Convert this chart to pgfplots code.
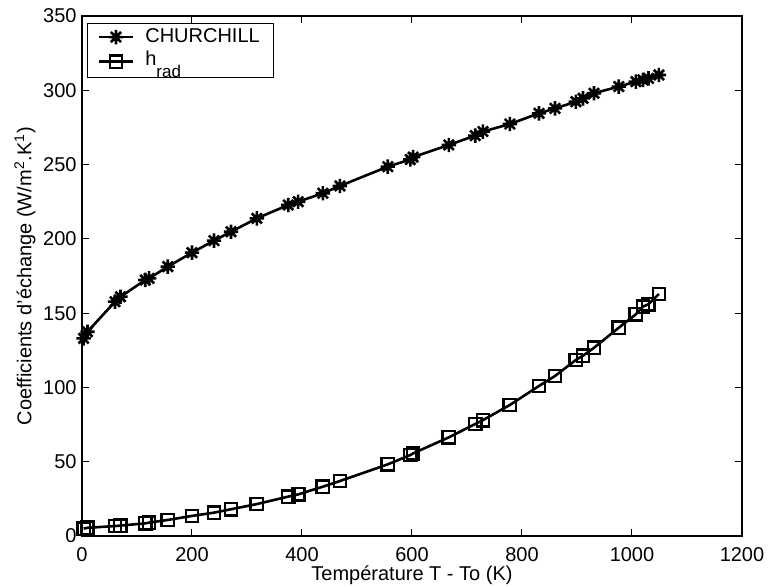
\documentclass[border=0pt]{standalone}
\usepackage{fontspec}
\setmainfont{Liberation Sans}
\usepackage{pgfplots}
\usepackage{pgfplotstable}
\pgfplotsset{compat=1.18}

\pgfdeclareplotmark{ast8}{%
  \pgfpathmoveto{\pgfqpoint{0pt}{\pgfplotmarksize}}%
  \pgfpathlineto{\pgfqpoint{0pt}{-\pgfplotmarksize}}%
  \pgfpathmoveto{\pgfqpoint{\pgfplotmarksize}{0pt}}%
  \pgfpathlineto{\pgfqpoint{-\pgfplotmarksize}{0pt}}%
  \pgfpathmoveto{\pgfqpoint{0.7071\pgfplotmarksize}{0.7071\pgfplotmarksize}}%
  \pgfpathlineto{\pgfqpoint{-0.7071\pgfplotmarksize}{-0.7071\pgfplotmarksize}}%
  \pgfpathmoveto{\pgfqpoint{0.7071\pgfplotmarksize}{-0.7071\pgfplotmarksize}}%
  \pgfpathlineto{\pgfqpoint{-0.7071\pgfplotmarksize}{0.7071\pgfplotmarksize}}%
  \pgfusepathqstroke
}

\pgfplotstableread{
x     church  hrad
3     133.0   5.0
10    137.5   5.5
60    157.7   6.7
70    161.0   7.0
115   172.3   8.5
122   173.4   9.0
156   181.3   10.8
200   190.7   13.5
240   198.8   15.7
271   204.8   18.0
318   213.8   21.5
375   222.8   26.5
393   225.0   28.0
438   230.7   33.2
469   235.6   37.0
556   248.6   48.2
597   253.4   54.5
602   255.0   55.6
667   263.2   66.4
715   269.5   75.4
729   272.2   78.0
778   277.3   88.2
831   284.5   101.0
860   287.8   107.7
898   292.3   118.5
911   294.6   121.4
931   298.0   126.7
976   302.5   140.2
1007  305.8   149.2
1020  307.0   154.4
1030  308.0   156.0
1049  310.3   162.9
}\datatable

\begin{document}
\begin{tikzpicture}
\begin{axis}[
  scale only axis,
  width=330pt, height=260pt,
  at={(0,0)}, anchor=south west,
  xmin=0, xmax=1200, ymin=0, ymax=350,
  xtick={0,200,...,1200}, ytick={0,50,...,350},
  tick align=inside,
  major tick length=3.3pt,
  tick style={black, line width=0.5pt},
  axis line style={black, line width=0.7pt},
  font=\fontsize{10}{12}\selectfont,
  /pgf/number format/assume math mode=true,
  /pgf/number format/1000 sep={},
  xticklabel style={yshift=-2.0pt},
  yticklabel style={inner xsep=2.5pt},
  xlabel={Température T - To (K)},
  ylabel={Coefficients d'échange (W/m\textsuperscript{2}.K\textsuperscript{1})},
  every axis x label/.style={at={(axis description cs:0.5,-0.075)}, anchor=center},
  every axis y label/.style={at={(axis description cs:-0.0864,0.5)}, anchor=center, rotate=90},
  legend style={at={(axis description cs:0,1)}, anchor=north west,
    xshift=2.5pt, yshift=-3.5pt, draw=black, line width=0.6pt,
    inner xsep=5pt, inner ysep=0.5pt, row sep=-1.5pt,
    /tikz/every odd column/.append style={column sep=3.5pt},
    font=\fontsize{10}{12}\selectfont},
  legend cell align=left,
]
\addplot[black, line width=1.3pt, mark=ast8, mark size=3.6pt,
  mark options={line width=1.3pt}] table[x=x, y=church] {\datatable};
\addlegendentry{CHURCHILL}
\addplot[black, line width=1.3pt, mark=square, mark size=3.1pt,
  mark options={line width=1.2pt}] table[x=x, y=hrad] {\datatable};
\addlegendentry{\raisebox{0.45ex}{h}\smash{\raisebox{-0.75ex}{\fontsize{8.5}{10}\selectfont rad}}}
\end{axis}
\pgfresetboundingbox
\path[use as bounding box] (-41pt,-25.5pt) rectangle (343pt,268pt);
\end{tikzpicture}
\end{document}
